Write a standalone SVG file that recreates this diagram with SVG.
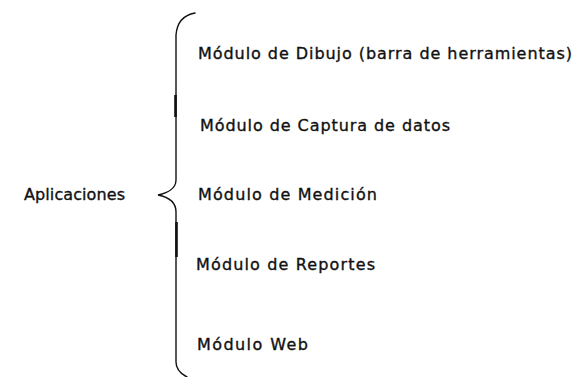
<svg xmlns="http://www.w3.org/2000/svg" width="575" height="377" viewBox="0 0 575 377">
<style>
.t{font-family:"DejaVu Sans","Liberation Sans",Arial,sans-serif;font-size:16px;fill:#111;stroke:#111;stroke-width:0.35}
.b{fill:none;stroke:#111;stroke-width:1.4;stroke-linecap:round}
.bt{fill:none;stroke:#111;stroke-width:2.6}
</style>
<rect width="575" height="377" fill="#fff"/>
<g id="connectors">
<path class="b" d="M195,13 C184,15 177,22 176,35 L176,180 C176,188 168,193 158,195 C168,197 176,202 176,212 L176,362 C176,370 181,374 187,377"/>
<line class="bt" x1="175.5" y1="95" x2="175.5" y2="117"/>
<line class="bt" x1="176.5" y1="222" x2="176.5" y2="257"/>
</g>
<g id="aplicaciones"><text class="t" x="24" y="200" textLength="101" lengthAdjust="spacing">Aplicaciones</text></g>
<g id="dibujo"><text class="t" x="198" y="59" textLength="374" lengthAdjust="spacing">Módulo de Dibujo (barra de herramientas)</text></g>
<g id="captura"><text class="t" x="200" y="131" textLength="250" lengthAdjust="spacing">Módulo de Captura de datos</text></g>
<g id="medicion"><text class="t" x="198" y="200" textLength="179" lengthAdjust="spacing">Módulo de Medición</text></g>
<g id="reportes"><text class="t" x="196" y="270" textLength="179" lengthAdjust="spacing">Módulo de Reportes</text></g>
<g id="web"><text class="t" x="197" y="350" textLength="111" lengthAdjust="spacing">Módulo Web</text></g>
</svg>
